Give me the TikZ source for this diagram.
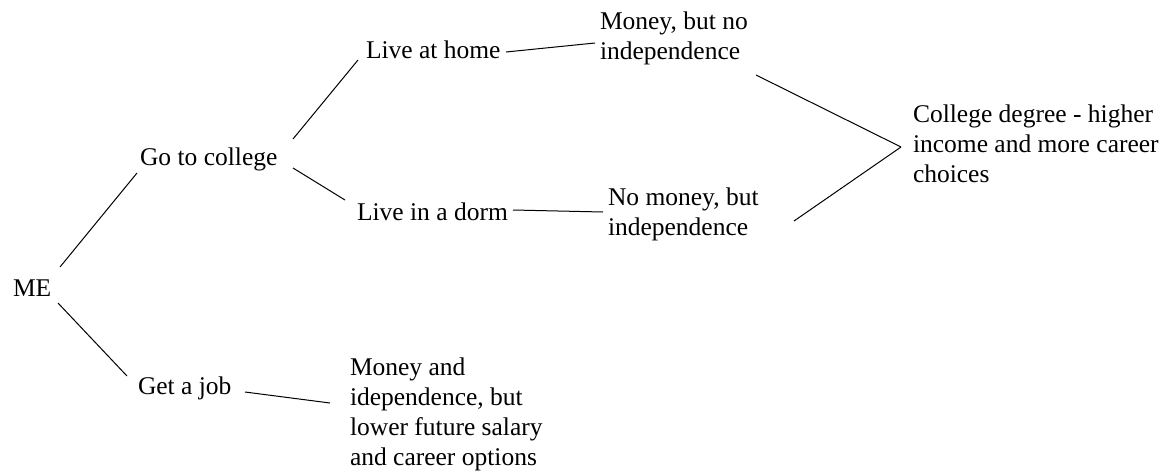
\documentclass[tikz,border=0pt]{standalone}
\usepackage{fontspec}
\setmainfont{Liberation Serif}
\newcommand\mlines[1]{\begin{tabular}[t]{@{}l@{}}#1\end{tabular}}
\begin{document}
\begin{tikzpicture}[x=1pt,y=-1pt,
  lbl/.style={inner sep=0pt, outer sep=0pt, anchor=base west, font=\fontsize{25.5}{30}\selectfont},
  conn/.style={line width=1pt, black}]
\useasboundingbox[fill=white] (0,0) rectangle (1165,472);
\node[lbl] (me) at (13,296) {ME};
\node[lbl] (go) at (140,165) {Go to college};
\node[lbl] (job) at (138,394) {Get a job};
\node[lbl] (home) at (366,58) {Live at home};
\node[lbl] (dorm) at (357,220) {Live in a dorm};
\node[lbl] (money) at (600,29) {\mlines{Money, but no\\independence}};
\node[lbl] (nomoney) at (608,205) {\mlines{No money, but\\independence}};
\node[lbl] (degree) at (913,122) {\mlines{College degree - higher\\income and more career\\choices}};
\node[lbl] (moneyjob) at (350,375) {\mlines{Money and\\idependence, but\\lower future salary\\and career options}};
\draw[conn] ([shift={(47,-29)}]me.base west) -- ([shift={(-3,8)}]go.base west);
\draw[conn] ([shift={(45,7)}]me.base west) -- ([shift={(-11,-18)}]job.base west);
\draw[conn] ([shift={(153,-26)}]go.base west) -- ([shift={(-8,2)}]home.base west);
\draw[conn] ([shift={(153,3)}]go.base west) -- ([shift={(-12,-20)}]dorm.base west);
\draw[conn] ([shift={(140,-6)}]home.base west) -- ([shift={(-5,14)}]money.base west);
\draw[conn] ([shift={(156,-10)}]dorm.base west) -- ([shift={(-5,7)}]nomoney.base west);
\draw[conn] ([shift={(156,46)}]money.base west) -- ([shift={(-12,25)}]degree.base west);
\draw[conn] ([shift={(186,16)}]nomoney.base west) -- ([shift={(-12,25)}]degree.base west);
\draw[conn] ([shift={(107,-2)}]job.base west) -- ([shift={(-20,28)}]moneyjob.base west);
\end{tikzpicture}
\end{document}
